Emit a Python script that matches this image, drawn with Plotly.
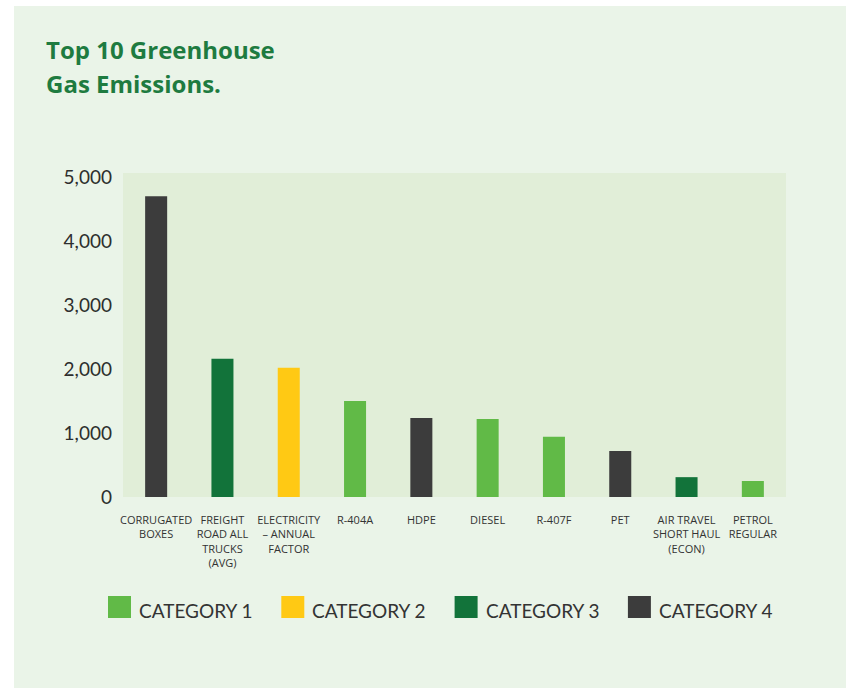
import plotly.graph_objects as go

# Emission sources, values and category membership
categories = [
    "CORRUGATED<br>BOXES",
    "FREIGHT<br>ROAD ALL<br>TRUCKS<br>(AVG)",
    "ELECTRICITY<br>– ANNUAL<br>FACTOR",
    "R-404A",
    "HDPE",
    "DIESEL",
    "R-407F",
    "PET",
    "AIR TRAVEL<br>SHORT HAUL<br>(ECON)",
    "PETROL<br>REGULAR",
]
emissions = [4700, 2160, 2020, 1500, 1235, 1220, 940, 720, 310, 250]
category_of = [4, 3, 2, 1, 4, 1, 1, 4, 3, 1]

legend_names = ["CATEGORY 1", "CATEGORY 2", "CATEGORY 3", "CATEGORY 4"]
y_ticks = [0, 1000, 2000, 3000, 4000, 5000]
title_lines = ["Top 10 Greenhouse", "Gas Emissions."]

palette = {1: "#61BA47", 2: "#FFC914", 3: "#12733A", 4: "#3C3C3C"}

W, H = 846, 689
L, R, T, B = 123, 60, 173, 192
PW, PH = W - L - R, H - T - B


def px(x):
    return (x - L) / PW


def py(y):
    return (H - B - y) / PH


fig = go.Figure()
fig.add_trace(go.Bar(
    x=categories,
    y=emissions,
    marker=dict(color=[palette[c] for c in category_of], line=dict(width=0)),
    showlegend=False,
    hoverinfo="x+y",
))

shapes = [
    # outer light panel
    dict(type="rect", xref="paper", yref="paper", layer="below",
         x0=px(14), x1=px(W + 2), y0=py(688), y1=py(6),
         fillcolor="#EAF4E8", line=dict(width=0)),
    # plotting area
    dict(type="rect", xref="paper", yref="paper", layer="below",
         x0=0, x1=1, y0=0, y1=1,
         fillcolor="#E1EED8", line=dict(width=0)),
]

annotations = []
# two-line heading, placed line by line for wider leading
for i, line in enumerate(title_lines):
    annotations.append(dict(
        text=f"<b>{line}</b>",
        xref="paper", yref="paper", x=px(44), y=py(49 + i * 35),
        xanchor="left", yanchor="middle", align="left", showarrow=False,
        font=dict(family="Open Sans, sans-serif", size=24, color="#1E7B40")))

# custom legend with large square swatches
step = 173.3
for i, name in enumerate(legend_names):
    x0 = 108 + i * step
    shapes.append(dict(type="rect", xref="paper", yref="paper",
                       x0=px(x0), x1=px(x0 + 23), y0=py(618), y1=py(596),
                       fillcolor=palette[i + 1], line=dict(width=0)))
    annotations.append(dict(text=name, xref="paper", yref="paper",
                            x=px(x0 + 29), y=py(610), xanchor="left",
                            yanchor="middle", showarrow=False,
                            font=dict(family="Lato, sans-serif", size=19,
                                      color="#333333")))

fig.update_layout(
    width=W, height=H,
    margin=dict(l=L, r=R, t=T, b=B, pad=0),
    paper_bgcolor="white",
    plot_bgcolor="rgba(0,0,0,0)",
    bargap=0.668,
    shapes=shapes,
    annotations=annotations,
    xaxis=dict(
        type="category",
        categoryorder="array", categoryarray=categories,
        showgrid=False, zeroline=False, showline=False, ticks="",
        tickfont=dict(family="Open Sans, sans-serif", size=11, color="#333333"),
        tickangle=0,
        ticklabelstandoff=15,
    ),
    yaxis=dict(
        range=[0, 5062],
        tickvals=y_ticks,
        ticktext=[f"{v:,}" for v in y_ticks],
        showgrid=False, zeroline=False, showline=False, ticks="",
        tickfont=dict(family="Lato, sans-serif", size=19, color="#2E2E2E"),
        ticklabelstandoff=10,
    ),
)

fig.write_html("out.html")
